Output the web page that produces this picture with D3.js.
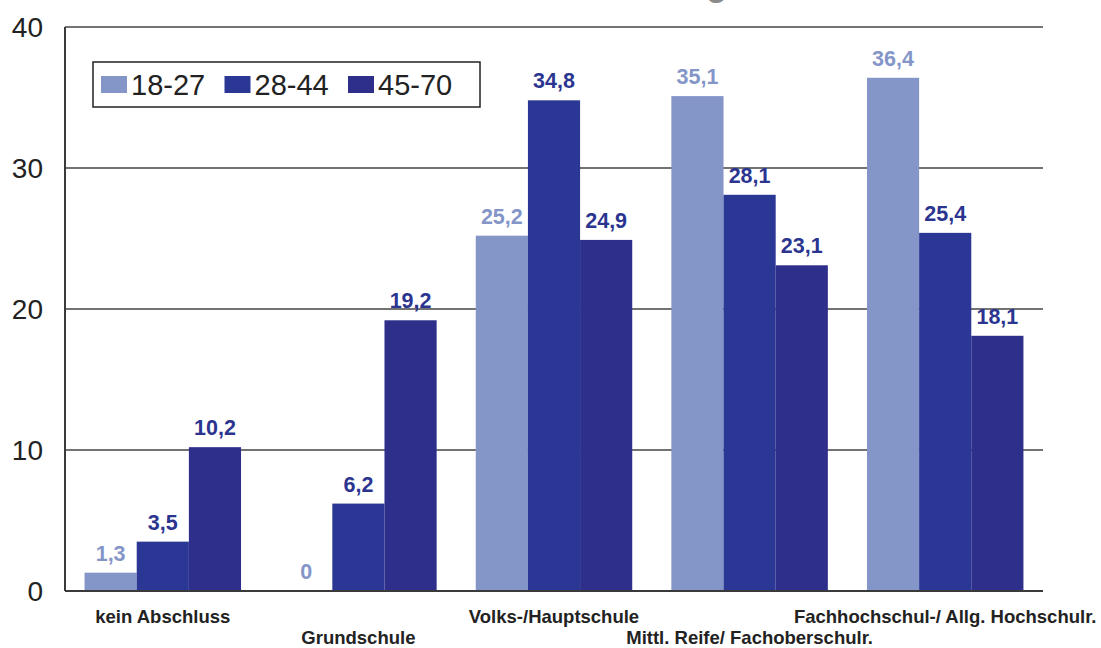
<!DOCTYPE html>
<html>
<head>
<meta charset="utf-8">
<script src="https://cdn.jsdelivr.net/npm/d3@7"></script>
<style>
  body { margin: 0; background: #fff; }
  svg { display: block; font-family: "Liberation Sans", Arial, sans-serif; }
</style>
</head>
<body>
<svg id="chart"></svg>
<script>
var categories = ["kein Abschluss", "Grundschule", "Volks-/Hauptschule", "Mittl. Reife/ Fachoberschulr.", "Fachhochschul-/ Allg. Hochschulr."];
var seriesNames = ["18-27", "28-44", "45-70"];
var values1827 = [1.3, 0, 25.2, 35.1, 36.4];
var values2844 = [3.5, 6.2, 34.8, 28.1, 25.4];
var values4570 = [10.2, 19.2, 24.9, 23.1, 18.1];
var yTicks = [0, 10, 20, 30, 40];

var colors = ["#8496c8", "#2b3795", "#2e2f8a"];
var labelColors = ["#8496c8", "#2b3590", "#2b3590"];

var width = 1101, height = 648;
var svg = d3.select("#chart").attr("width", width).attr("height", height);

var plotLeft = 65, plotRight = 1043, plotTop = 27, plotBottom = 591;

var x = d3.scaleBand().domain(categories).range([plotLeft, plotRight])
    .paddingInner(0.2).paddingOuter(0.1);
var xs = d3.scaleBand().domain(seriesNames).range([0, x.bandwidth()]);
var y = d3.scaleLinear().domain([0, 40]).range([plotBottom, plotTop]);

var series = [values1827, values2844, values4570];

// cut-off title at the top
svg.append("text")
    .attr("x", 727).attr("y", -4)
    .attr("text-anchor", "end")
    .style("font-size", "34px").style("font-weight", "bold")
    .style("fill", "#8a8a8a")
    .text("Schulbildung");

// gridlines
svg.append("g").selectAll("line")
    .data(yTicks.filter(function(d) { return d > 0; }))
  .enter().append("line")
    .attr("x1", plotLeft).attr("x2", plotRight)
    .attr("y1", function(d) { return y(d); })
    .attr("y2", function(d) { return y(d); })
    .style("stroke", "#444").style("stroke-width", 1.3);

// y tick labels
svg.append("g").selectAll("text")
    .data(yTicks)
  .enter().append("text")
    .attr("x", 43)
    .attr("y", function(d) { return y(d); })
    .attr("dy", "0.35em")
    .attr("text-anchor", "end")
    .style("font-size", "28px").style("fill", "#222")
    .text(function(d) { return d; });

// bars
var groups = svg.append("g").selectAll("g")
    .data(series)
  .enter().append("g")
    .style("fill", function(d, i) { return colors[i]; });

groups.selectAll("rect")
    .data(function(d, i) { return d.map(function(v, j) { return {s: i, c: categories[j], v: v}; }); })
  .enter().append("rect")
    .attr("x", function(d) { return x(d.c) + xs(seriesNames[d.s]); })
    .attr("y", function(d) { return y(d.v); })
    .attr("width", xs.bandwidth())
    .attr("height", function(d) { return y(0) - y(d.v); });

// value labels
groups.selectAll("text")
    .data(function(d, i) { return d.map(function(v, j) { return {s: i, c: categories[j], v: v}; }); })
  .enter().append("text")
    .attr("x", function(d) { return x(d.c) + xs(seriesNames[d.s]) + xs.bandwidth() / 2; })
    .attr("y", function(d) { return y(d.v) - 12; })
    .attr("text-anchor", "middle")
    .style("font-size", "21.5px").style("font-weight", "bold")
    .style("fill", function(d) { return labelColors[d.s]; })
    .text(function(d) { return String(d.v).replace(".", ","); });

// axes lines
svg.append("line")
    .attr("x1", plotLeft).attr("x2", plotLeft).attr("y1", plotTop).attr("y2", plotBottom)
    .style("stroke", "#3a3a3a").style("stroke-width", 2);
svg.append("line")
    .attr("x1", plotLeft).attr("x2", plotRight).attr("y1", plotBottom).attr("y2", plotBottom)
    .style("stroke", "#3a3a3a").style("stroke-width", 2);

// category labels, staggered
svg.append("g").selectAll("text")
    .data(categories)
  .enter().append("text")
    .attr("x", function(d) { return x(d) + x.bandwidth() / 2; })
    .attr("y", function(d, i) { return i % 2 === 0 ? 623 : 644; })
    .attr("text-anchor", "middle")
    .style("font-size", "18.5px").style("font-weight", "bold")
    .style("fill", "#222")
    .text(function(d) { return d; });

// legend
var legend = svg.append("g").attr("transform", "translate(93,62)");
legend.append("rect")
    .attr("width", 387).attr("height", 45)
    .style("fill", "#fff").style("stroke", "#222").style("stroke-width", 1.5);

var item = legend.selectAll("g.item")
    .data(seriesNames)
  .enter().append("g")
    .attr("class", "item")
    .attr("transform", function(d, i) { return "translate(" + (8 + i * 123.5) + ",0)"; });
item.append("rect")
    .attr("y", 14).attr("width", 26).attr("height", 17)
    .style("fill", function(d, i) { return colors[i]; });
item.append("text")
    .attr("x", 30).attr("y", 33)
    .style("font-size", "29px").style("fill", "#222")
    .text(function(d) { return d; });
</script>
</body>
</html>
